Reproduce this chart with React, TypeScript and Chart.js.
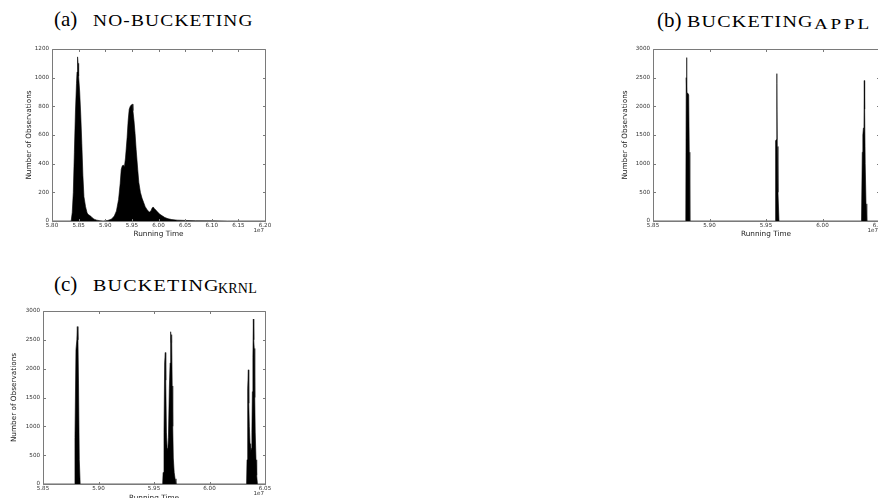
import React, { useEffect, useRef } from "react";
import { Chart, registerables } from "chart.js";

Chart.register(...registerables);

// ---------- data ----------
const timesA = [5.800, 5.836, 5.838, 5.840, 5.842, 5.844, 5.846, 5.847, 5.848, 5.849, 5.850, 5.852, 5.854, 5.856, 5.858, 5.860, 5.863, 5.866, 5.869, 5.872, 5.875, 5.879, 5.884, 5.890, 5.896, 5.905, 5.912, 5.917, 5.921, 5.925, 5.928, 5.930, 5.932, 5.934, 5.936, 5.938, 5.941, 5.943, 5.945, 5.947, 5.949, 5.951, 5.952, 5.954, 5.956, 5.958, 5.961, 5.963, 5.966, 5.969, 5.972, 5.975, 5.978, 5.981, 5.983, 5.986, 5.988, 5.990, 5.992, 5.995, 5.998, 6.002, 6.007, 6.012, 6.018, 6.025, 6.035, 6.050, 6.070, 6.100, 6.130, 6.200];
const countsA = [0, 0, 60, 200, 480, 760, 960, 1040, 1145, 1100, 1010, 900, 740, 540, 320, 170, 100, 55, 42, 36, 24, 13, 6, 2, 0, 4, 14, 35, 70, 150, 260, 360, 385, 390, 378, 440, 580, 700, 780, 800, 810, 815, 770, 700, 610, 500, 360, 270, 200, 160, 130, 100, 82, 68, 62, 72, 90, 98, 88, 76, 64, 48, 36, 24, 16, 10, 6, 4, 2, 1, 0, 0];
const xTicksA = [5.80, 5.85, 5.90, 5.95, 6.00, 6.05, 6.10, 6.15, 6.20];
const yTicksA = [0, 200, 400, 600, 800, 1000, 1200];

const timesB = [5.850, 5.8790, 5.8794, 5.8797, 5.8800, 5.8808, 5.8816, 5.8821, 5.8826, 5.9580, 5.9585, 5.9592, 5.9595, 5.9597, 5.9600, 5.9606, 5.9615, 6.0345, 6.0352, 6.0357, 6.0362, 6.0367, 6.0370, 6.0373, 6.0378, 6.0385, 6.0392, 6.050];
const countsB = [0, 0, 2500, 2850, 2240, 2230, 2200, 1200, 0, 0, 1400, 1420, 2570, 2400, 1300, 500, 0, 0, 1200, 1500, 1620, 1650, 2450, 1950, 1000, 300, 0, 0];
const xTicksB = [5.85, 5.90, 5.95, 6.00, 6.05];
const yTicksB = [0, 500, 1000, 1500, 2000, 2500, 3000];

const timesC = [5.850, 5.8785, 5.8788, 5.8797, 5.8805, 5.8809, 5.8815, 5.8820, 5.8827, 5.8835, 5.9578, 5.9582, 5.9590, 5.9596, 5.9602, 5.9606, 5.9612, 5.9618, 5.9624, 5.9630, 5.9638, 5.9645, 5.9650, 5.9655, 5.9659, 5.9664, 5.9669, 5.9674, 5.9682, 5.9690, 5.9698, 6.0334, 6.0338, 6.0344, 6.0350, 6.0354, 6.0359, 6.0365, 6.0371, 6.0377, 6.0382, 6.0386, 6.0391, 6.0395, 6.0399, 6.0403, 6.0408, 6.0412, 6.0419, 6.0425, 6.0432, 6.050];
const countsC = [0, 0, 800, 2330, 2500, 2730, 2500, 1750, 420, 0, 0, 200, 900, 2100, 2280, 1800, 900, 620, 580, 800, 1650, 2100, 2640, 2450, 2590, 1700, 1000, 450, 200, 90, 0, 0, 420, 1650, 1980, 1400, 1000, 700, 540, 620, 900, 1600, 2200, 2860, 2500, 2350, 1500, 900, 420, 150, 0, 0];
const xTicksC = [5.85, 5.90, 5.95, 6.00, 6.05];
const yTicksC = [0, 500, 1000, 1500, 2000, 2500, 3000];

const xAxisTitle = "Running Time";
const yAxisTitle = "Number of Observations";
const offsetText = "1e7";

// ---------- styling ----------
const SANS = '"DejaVu Sans", sans-serif';
const SERIF = '"Liberation Serif", serif';
const TICK_FONT = 5.6;
const LABEL_FONT = 7.3;

const framePlugin = {
  id: "mplFrame",
  afterDraw(chart: any) {
    const { ctx, chartArea: a, scales } = chart;
    const xs = scales.x;
    const ys = scales.y;
    ctx.save();
    ctx.strokeStyle = "#7a7a7a";
    ctx.lineWidth = 1;
    const L = Math.round(a.left) + 0.5;
    const T = Math.round(a.top) + 0.5;
    const R = Math.round(a.right) + 0.5;
    const B = Math.round(a.bottom) + 0.5;
    ctx.beginPath();
    ctx.rect(L, T, R - L, B - T);
    const tl = 2.5;
    xs.ticks.forEach((t: any) => {
      const px = Math.round(xs.getPixelForValue(t.value)) + 0.5;
      ctx.moveTo(px, B);
      ctx.lineTo(px, B - tl);
      ctx.moveTo(px, T);
      ctx.lineTo(px, T + tl);
    });
    ys.ticks.forEach((t: any) => {
      const py = Math.round(ys.getPixelForValue(t.value)) + 0.5;
      ctx.moveTo(L, py);
      ctx.lineTo(L + tl, py);
      ctx.moveTo(R, py);
      ctx.lineTo(R - tl, py);
    });
    ctx.stroke();
    ctx.fillStyle = "#333";
    ctx.font = `${TICK_FONT}px ${SANS}`;
    ctx.textAlign = "right";
    ctx.textBaseline = "middle";
    ctx.fillText(offsetText, a.right - 1, a.bottom + 10);
    ctx.restore();
  },
};

type PanelProps = {
  times: number[];
  counts: number[];
  xTicks: number[];
  yTicks: number[];
  left: number;
  top: number;
  width: number;
  height: number;
  axisW: number;
  axisH: number;
  padTop: number;
  padRight: number;
  yTitlePad: number;
  xTitlePad: number;
};

function Panel(p: PanelProps) {
  const ref = useRef<HTMLCanvasElement | null>(null);
  useEffect(() => {
    if (!ref.current) return;
    const chart = new Chart(ref.current, {
      type: "line",
      data: {
        datasets: [
          {
            data: p.times.map((t, i) => ({ x: t, y: p.counts[i] })),
            borderColor: "#000",
            backgroundColor: "#000",
            borderWidth: 0.6,
            fill: "origin",
            pointRadius: 0,
            tension: 0,
          },
        ],
      },
      options: {
        animation: false,
        responsive: false,
        maintainAspectRatio: false,
        devicePixelRatio: 1,
        layout: { padding: { top: p.padTop, right: p.padRight, left: 0, bottom: 0 } },
        plugins: { legend: { display: false }, tooltip: { enabled: false } },
        scales: {
          x: {
            type: "linear",
            min: p.xTicks[0],
            max: p.xTicks[p.xTicks.length - 1],
            afterBuildTicks: (s: any) => {
              s.ticks = p.xTicks.map((v) => ({ value: v }));
            },
            afterFit: (s: any) => {
              s.height = p.axisH;
            },
            grid: { display: false, drawTicks: false },
            border: { display: false },
            ticks: {
              autoSkip: false,
              maxRotation: 0,
              padding: 0.8,
              color: "#333",
              font: { family: SANS, size: TICK_FONT },
              callback: (v: any) => Number(v).toFixed(2),
            },
            title: {
              display: true,
              text: xAxisTitle,
              color: "#222",
              font: { family: SANS, size: LABEL_FONT, lineHeight: 1.2 },
              padding: { top: 0, bottom: p.xTitlePad },
            },
          },
          y: {
            type: "linear",
            min: p.yTicks[0],
            max: p.yTicks[p.yTicks.length - 1],
            afterBuildTicks: (s: any) => {
              s.ticks = p.yTicks.map((v) => ({ value: v }));
            },
            afterFit: (s: any) => {
              s.width = p.axisW;
            },
            grid: { display: false, drawTicks: false },
            border: { display: false },
            ticks: {
              autoSkip: false,
              padding: 3,
              color: "#333",
              font: { family: SANS, size: TICK_FONT },
              callback: (v: any) => String(v),
            },
            title: {
              display: true,
              text: yAxisTitle,
              color: "#222",
              font: { family: SANS, size: LABEL_FONT, lineHeight: 1.2 },
              padding: { top: p.yTitlePad, bottom: 0 },
            },
          },
        },
      } as any,
      plugins: [framePlugin],
    });
    return () => chart.destroy();
  }, []);
  return (
    <canvas
      ref={ref}
      width={p.width}
      height={p.height}
      style={{ position: "absolute", left: p.left, top: p.top, width: p.width, height: p.height }}
    />
  );
}

const abs = (extra: React.CSSProperties): React.CSSProperties => ({
  position: "absolute",
  whiteSpace: "nowrap",
  fontFamily: SERIF,
  color: "#000",
  ...extra,
});

function Title(props: {
  label: string;
  caps: string;
  sub?: string;
  x: number;
  capsX: number;
  subX?: number;
  baseline: number;
  capsLs: number;
  capsScale: number;
  subLs?: number;
  subScale?: number;
}) {
  const F1 = 21;
  const F2 = 16.3;
  const F3 = 14;
  return (
    <>
      <span style={abs({ left: props.x, top: props.baseline - 17.6, fontSize: F1, lineHeight: `${F1}px` })}>
        {props.label}
      </span>
      <span
        style={abs({
          left: props.capsX,
          top: props.baseline - 13.4,
          fontSize: F2,
          lineHeight: `${F2}px`,
          letterSpacing: props.capsLs,
          display: "inline-block",
          transform: `scaleX(${props.capsScale})`,
          transformOrigin: "left center",
        })}
      >
        {props.caps}
      </span>
      {props.sub ? (
        <span
          style={abs({
            left: props.subX,
            top: props.baseline + 2 - 11.6,
            fontSize: F3,
            lineHeight: `${F3}px`,
            letterSpacing: props.subLs,
            display: "inline-block",
            transform: `scaleX(${props.subScale ?? 1})`,
            transformOrigin: "left center",
          })}
        >
          {props.sub}
        </span>
      ) : null}
    </>
  );
}

export default function App() {
  return (
    <div
      style={{
        position: "absolute",
        left: 0,
        top: 0,
        width: 878,
        height: 498,
        overflow: "hidden",
        background: "#fff",
      }}
    >
      <Title label="(a)" caps="NO-BUCKETING" x={54} capsX={93} baseline={26.7} capsLs={1} capsScale={1.19} />
      <Title label="(b)" caps="BUCKETING" sub="APPL" x={657} capsX={687} subX={814} baseline={27.3} capsLs={1} capsScale={1.23} subLs={2} subScale={1.37} />
      <Title label="(c)" caps="BUCKETING" sub="KRNL" x={54} capsX={93} subX={218} baseline={291.7} capsLs={1} capsScale={1.23} subLs={0.2} subScale={1} />

      <Panel
        times={timesA}
        counts={countsA}
        xTicks={xTicksA}
        yTicks={yTicksA}
        left={0}
        top={40}
        width={290}
        height={205}
        axisW={52}
        axisH={24}
        padTop={9}
        padRight={25}
        yTitlePad={24.8}
        xTitlePad={6.3}
      />
      <Panel
        times={timesB}
        counts={countsB}
        xTicks={xTicksB}
        yTicks={yTicksB}
        left={600}
        top={40}
        width={300}
        height={205}
        axisW={53}
        axisH={24}
        padTop={9}
        padRight={21}
        yTitlePad={20.9}
        xTitlePad={6.3}
      />
      <Panel
        times={timesC}
        counts={countsC}
        xTicks={xTicksC}
        yTicks={yTicksC}
        left={0}
        top={300}
        width={290}
        height={208}
        axisW={43}
        axisH={24}
        padTop={11}
        padRight={25}
        yTitlePad={9.3}
        xTitlePad={6}
      />
    </div>
  );
}
